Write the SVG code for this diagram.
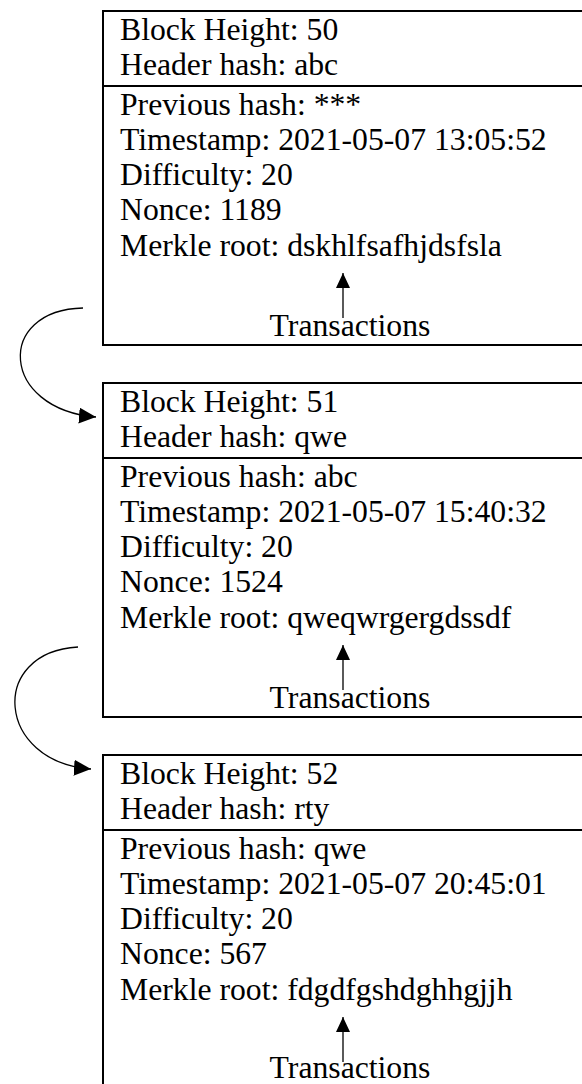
<svg xmlns="http://www.w3.org/2000/svg" width="582" height="1084" viewBox="0 0 582 1084">
  <style>
    .box { fill: #fff; stroke: #000; stroke-width: 2; }
    .div { stroke: #000; stroke-width: 2; }
    .link { fill: none; stroke: #000; stroke-width: 1.3; }
  </style>
  <defs>
    <marker id="head" markerUnits="userSpaceOnUse" markerWidth="18" markerHeight="16" refX="17" refY="8" orient="auto">
      <path d="M0,0 L17,8 L0,16 Z" fill="#000"/>
    </marker>
    <marker id="headUp" markerUnits="userSpaceOnUse" markerWidth="16" markerHeight="16" refX="15" refY="7" orient="auto">
      <path d="M0,0 L15,7 L0,14 Z" fill="#000"/>
    </marker>
  </defs>

  <g font-family="'Liberation Serif', 'Times New Roman', serif" font-size="31.7" fill="#000">
    <!-- block 50 -->
    <g id="block50">
      <rect class="box" x="103" y="11" width="500" height="334"/>
      <line class="div" x1="103" y1="86" x2="582" y2="86"/>
      <text x="120" y="40">Block Height: 50</text>
      <text x="120" y="75">Header hash: abc</text>
      <text x="120" y="115">Previous hash: ***</text>
      <text x="120" y="150">Timestamp: 2021-05-07 13:05:52</text>
      <text x="120" y="185">Difficulty: 20</text>
      <text x="120" y="220">Nonce: 1189</text>
      <text x="120" y="256">Merkle root: dskhlfsafhjdsfsla</text>
      <line class="link" x1="343" y1="318" x2="343" y2="273" marker-end="url(#headUp)"/>
      <text x="350" y="336" text-anchor="middle">Transactions</text>
    </g>

    <!-- block 51 -->
    <g id="block51">
      <rect class="box" x="103" y="383" width="500" height="334"/>
      <line class="div" x1="103" y1="458" x2="582" y2="458"/>
      <text x="120" y="412">Block Height: 51</text>
      <text x="120" y="447">Header hash: qwe</text>
      <text x="120" y="487">Previous hash: abc</text>
      <text x="120" y="522">Timestamp: 2021-05-07 15:40:32</text>
      <text x="120" y="557">Difficulty: 20</text>
      <text x="120" y="592">Nonce: 1524</text>
      <text x="120" y="628">Merkle root: qweqwrgergdssdf</text>
      <line class="link" x1="343" y1="690" x2="343" y2="645" marker-end="url(#headUp)"/>
      <text x="350" y="708" text-anchor="middle">Transactions</text>
    </g>

    <!-- block 52 -->
    <g id="block52">
      <rect class="box" x="103" y="755" width="500" height="334"/>
      <line class="div" x1="103" y1="830" x2="582" y2="830"/>
      <text x="120" y="784">Block Height: 52</text>
      <text x="120" y="819">Header hash: rty</text>
      <text x="120" y="859">Previous hash: qwe</text>
      <text x="120" y="894">Timestamp: 2021-05-07 20:45:01</text>
      <text x="120" y="929">Difficulty: 20</text>
      <text x="120" y="964">Nonce: 567</text>
      <text x="120" y="1000">Merkle root: fdgdfgshdghhgjjh</text>
      <line class="link" x1="343" y1="1062" x2="343" y2="1017" marker-end="url(#headUp)"/>
      <text x="350" y="1078" text-anchor="middle">Transactions</text>
    </g>
  </g>

  <!-- chain links -->
  <g id="connectors">
    <path class="link" d="M83,308 C-5,310 0,409 96,417" marker-end="url(#head)"/>
    <path class="link" d="M78,647 C-12,652 -4,762 91,769" marker-end="url(#head)"/>
  </g>
</svg>
